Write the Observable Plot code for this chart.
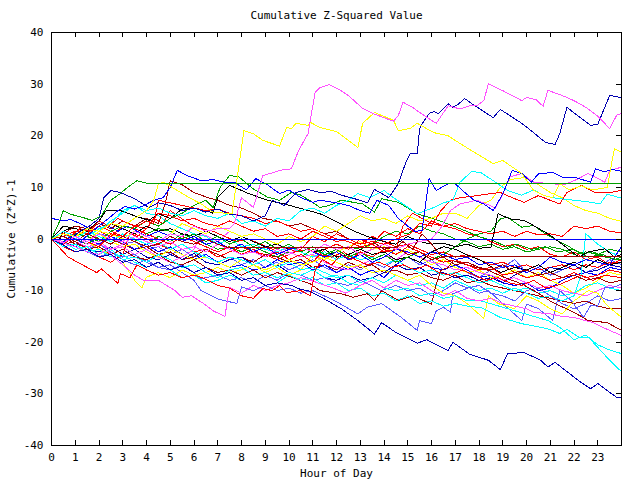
<!DOCTYPE html>
<html><head><meta charset="utf-8">
<script src="https://cdn.jsdelivr.net/npm/d3@7"></script>
<script src="https://cdn.jsdelivr.net/npm/@observablehq/plot@0.6"></script>
<style>body{margin:0;background:#fff} svg{display:block}</style>
</head><body><div id="chart"></div>
<script>
const titleText = "Cumulative Z-Squared Value";
const xLabel = "Hour of Day";
const yLabel = "Cumulative (Z*Z)-1";
const hourTicks = d3.range(0, 24);
const valueTicks = [-40,-30,-20,-10,0,10,20,30,40];

// series: [hour, cumulative value]
const mag1 = [[0,0],[0.5,-0.8],[1,0.5],[1.5,-0.5],[2,1],[2.5,0],[3,-0.5],[3.5,1.5],[4,0.5],[4.5,-0.5],[5,1],[5.5,0.5],[6,2.5],[6.5,1.5],[7,2],[7.5,2],[7.7,3],[8.0,8],[8.5,6.1],[8.9,12.3],[9.3,12.8],[9.6,13.3],[10.1,13.6],[10.4,17.1],[10.8,20.4],[11.1,28.4],[11.3,29.3],[11.7,29.9],[12.1,29],[12.5,27.8],[13.1,25.3],[13.6,24.2],[14.0,23.5],[14.4,22.8],[14.6,23.9],[14.8,26.5],[15.2,25.5],[15.5,24.5],[16.2,22.4],[16.7,25.8],[17.2,25.2],[17.6,25.8],[17.9,25.8],[18.2,26.8],[18.4,30.1],[19.1,28.5],[19.8,26.8],[20.0,27.4],[20.4,27],[20.7,25.7],[20.9,28.8],[21.5,27.8],[22.0,26.8],[22.5,25.5],[23.0,23.8],[23.5,21.4],[23.8,24],[24,24.3]];
const yel1 = [[0,0],[0.5,1],[1,0.5],[1.5,2],[2,1.5],[2.5,3],[3,2.5],[3.5,4],[4,5.5],[4.3,7.4],[4.5,10.7],[4.7,11],[5.3,9.4],[5.8,8],[6.3,6.8],[6.8,5.2],[7.3,5],[7.6,4.9],[8.1,21],[8.5,20.4],[8.9,19.1],[9.6,18],[9.9,21.6],[10.1,21.4],[10.3,22.4],[10.8,22],[10.9,22.6],[11.3,21.6],[12.0,20.8],[12.9,17.7],[13.1,22.4],[13.6,24.5],[14.4,23],[14.6,21],[15.1,21.4],[15.4,22.4],[16.1,20.6],[16.7,20],[17.2,18.5],[17.8,16.8],[18.6,14.6],[19.0,15.2],[19.8,12.7],[20.3,9.4],[20.7,8.5],[21.1,8],[21.4,10.7],[21.8,9.5],[22.3,10.3],[22.8,9.5],[23.4,10],[23.7,17.5],[24,16.8]];
const nav1 = [[0,0],[0.4,-1],[0.8,0],[1.2,1.5],[1.6,2.5],[2,4],[2.2,8],[2.5,9.4],[2.9,9],[3.5,7.8],[4.1,6.1],[4.5,7],[5,6.5],[5.5,5.5],[6,6],[6.5,5.2],[7,5.8],[7.5,4.8],[8,4.5],[8.5,3.5],[9,4.5],[9.3,7.5],[9.8,6.5],[10.3,9],[10.8,9.6],[11.3,9],[11.8,9.2],[12.2,8.5],[13,7.5],[13.3,7],[13.6,9.6],[14.2,8],[14.6,10.7],[14.9,14.6],[15.1,16.5],[15.4,16.5],[15.5,21.4],[15.7,23],[15.9,24.3],[16.1,24.7],[16.3,24.3],[16.7,26.2],[16.9,25.5],[17.1,26],[17.4,27.2],[17.7,26.2],[18.6,23.5],[18.9,25.1],[19.8,22.4],[20.3,20.6],[20.8,18.7],[21.2,18.3],[21.4,20.4],[21.7,25.5],[22.7,22],[23,22.2],[23.5,27.8],[24,27.4]];
const grn1 = [[0,0],[0.3,3],[0.5,5.5],[0.8,4.8],[1.3,4.2],[1.7,3.6],[2.1,4.5],[2.3,6],[2.5,7.5],[2.9,8.8],[3.2,10],[3.6,11.3],[4.0,10.8],[24,10.8]];
const blu0 = [[0,0],[24,0]];
const blu2 = [[0,0],[0.4,-1],[0.8,0.5],[1.2,-0.5],[1.6,1],[2,2.5],[2.4,4],[2.8,5.5],[3.1,6.3],[3.5,5.8],[3.9,6.5],[4.3,7.5],[4.7,8],[5.0,10],[5.3,13.3],[5.7,12.3],[6.3,11.3],[6.8,11.5],[7.3,11],[7.7,11],[8.2,9.5],[8.6,11.7],[9.1,10.5],[9.6,8.8],[10.0,9.5],[10.5,8],[11,7.1],[11.3,7.5],[12,7],[12.5,6.5],[13,5.5],[13.4,5],[13.7,7.5],[14.2,6.5],[14.6,4],[15,2.5],[15.3,1.5],[15.6,1.6],[15.9,11.7],[16.2,9.4],[16.7,10.7],[17,10.7],[17.4,9],[17.8,7.5],[18.2,6.8],[18.6,5.5],[19,8.7],[19.4,13.3],[19.8,12.7],[20.2,11],[20.5,12.6],[21.1,12.9],[21.5,12],[22,12],[22.7,11],[22.9,13.6],[23.3,13],[23.6,13.5],[24,13.1]];
const cya1 = [[0,0],[0.5,1.5],[1,0.5],[1.5,2],[2,1.5],[2.5,3.5],[3,5],[3.5,6.5],[4,5.5],[4.5,6],[5,5],[5.5,4.5],[6,5.5],[6.5,4.5],[7,4],[7.5,5],[8,3],[8.5,3.5],[9,2.5],[9.5,4],[10,3.5],[10.5,5.5],[11,6],[11.5,5],[12,6.5],[12.5,7.5],[12.9,8.8],[13.4,8],[14,9.4],[14.4,8],[14.8,6.8],[15.4,4.9],[16.1,6.1],[16.5,7],[16.9,7.5],[17.2,11],[17.7,13.1],[18.1,12.8],[18.6,11.3],[19.2,9.4],[19.8,8.5],[20.3,9.5],[20.7,8.5],[21.1,8],[22,7.5],[22.6,7.2],[23.1,6.8],[23.4,8.7],[24,7.9]];
const red1 = [[0,0],[0.5,-1],[1,0.5],[1.5,-0.5],[2,-1.5],[2.5,1],[3,0.5],[3.5,2.5],[4,2],[4.5,5],[5,4.5],[5.5,3.5],[6,4],[6.5,3],[7,2.5],[7.5,3.5],[8,2.5],[8.5,1.5],[9,2],[9.5,0.5],[10,1],[10.5,0],[11,1.5],[11.5,0.5],[12,-0.5],[12.5,0],[13,-1],[13.5,-0.5],[14,-1],[14.5,0],[15.1,1],[15.5,3],[16,2.5],[16.4,5.5],[16.8,7.5],[17.2,8],[17.9,8.4],[18.5,8.8],[18.9,9],[19.4,8],[19.9,7.1],[20.5,8.4],[21,7.5],[21.4,6.8],[21.7,9],[22.3,10.4],[22.9,9],[23.5,9],[24,9.4]];
const yel2 = [[0,0],[0.5,-1],[1,0.5],[1.5,-0.5],[2,1.5],[2.5,1],[3,0],[3.5,1.5],[4,0.5],[4.5,-0.5],[5,1],[5.5,3],[6,2],[6.5,1],[7,2.5],[7.5,1.5],[8,0.5],[8.5,1],[9,0],[9.5,-1],[10,0.5],[10.5,-0.5],[11,0.5],[11.5,2.5],[12,1.5],[12.5,3],[13,4.5],[13.5,3.5],[14,4],[14.5,3],[15,4.5],[15.5,3.5],[16,4],[16.5,5],[17,5],[17.5,4],[18,6.5],[18.5,7.5],[18.9,10],[19.3,11.5],[19.9,11.9],[20.5,10.5],[21,9],[21.5,8],[22,6.5],[22.5,5.5],[23,5],[23.5,4],[24,3.4]];
const red2 = [[0,0],[0.4,1.2],[0.8,0.5],[1.2,2],[1.6,1.5],[2,3.5],[2.4,2.5],[2.8,4],[3.2,3],[3.6,2.5],[4,3.5],[4.3,3],[4.5,7.5],[5,7],[5.5,6.5],[6,6],[6.5,5.5],[7,5.8],[7.5,5],[8,4.5],[8.5,4],[9,3],[9.5,3.5],[10,2.5],[10.5,1.5],[11,2],[11.5,1],[12,0],[12.5,-0.5],[13,-1.5],[13.5,-1],[14,-2.5],[14.5,-2],[14.8,2.5],[15.2,5],[15.6,4],[16,3],[16.5,2.5],[17,3],[17.5,2],[18,1.5],[18.5,1],[19,1.5],[19.5,0.5],[20,1.5],[20.5,0.8],[21,1],[21.5,0.5],[22,2.5],[22.5,2],[23,2.5],[23.5,1.5],[24,1.2]];
const blk1 = [[0,0],[0.3,1.5],[0.5,2.5],[1,2],[1.5,1.5],[2,3.5],[2.3,5.5],[2.9,5.5],[3.5,4.5],[4.1,3.6],[4.5,4.9],[5,4],[5.5,5.8],[6,6],[6.5,5.5],[6.8,5],[7.0,8.1],[7.5,10.4],[8.3,8.8],[9.1,7.5],[9.8,6.8],[10.5,5.9],[11.3,4.9],[11.9,3.6],[12.7,1.6],[13.3,0.5],[14,-0.5],[14.5,-1],[15,0.5],[15.5,-0.5],[16,-1],[16.5,-0.8],[17,-1.5],[17.5,-1],[18,-1.8],[18.5,-1.6],[18.8,4.9],[19.3,3.9],[19.9,3.6],[20.3,2.6],[20.9,1],[21.3,-0.3],[22.2,-3.5],[22.6,-2.5],[23.3,-1.9],[23.7,-3.5],[24,-3]];
const grn2 = [[0,0],[0.5,-0.5],[1,1],[1.5,0.5],[2,-0.5],[2.5,1.5],[3,2.5],[3.5,2],[4,3.5],[4.5,2.5],[5,4],[5.5,5],[6,6.5],[6.5,7.5],[6.8,6.1],[7.1,10],[7.5,12.3],[7.9,12],[8.5,9.7],[9.1,8.1],[9.6,7.5],[10.1,9],[10.5,8.5],[11,7.1],[11.3,6.1],[11.7,6.5],[12.2,7.5],[13.1,6.8],[13.6,5.2],[13.9,7.8],[14.6,7.1],[15.4,4.9],[16.3,3.6],[17.2,2],[18.1,0.3],[18.6,-0.3],[19.2,-1.6],[19.6,-1],[20.2,-2],[20.8,-1.5],[21.3,-2.5],[22,-2],[22.6,-3.5],[23.2,-3],[23.7,-4],[24,-3.5]];
const marB = [[0,0],[0.5,1],[1,2.5],[1.5,2],[2,3],[2.5,2],[3,3.5],[3.5,2.5],[4,4],[4.5,3],[4.8,7],[5,11.3],[5.5,10.5],[6,9],[6.6,8],[7,7.5],[7.5,6.5],[8,6],[8.5,5],[8.9,4],[9.5,3.5],[10,2.5],[10.5,3],[11,2],[11.5,1],[12,1.5],[12.5,0],[13,-1],[13.5,-0.5],[14,-2],[14.5,-1.5],[15,-3],[15.5,-2.5],[16,-4],[16.5,-3.5],[17,-5],[17.5,-4.5],[18,-5.5],[18.5,-6],[19,-5],[19.5,-6.5],[20,-6],[20.5,-7],[21,-6.5],[21.5,-7.5],[22,-7],[22.5,-8],[23,-7.5],[23.5,-8.5],[24,-8]];
const marA = [[0,0],[0.5,0.5],[1,-0.5],[1.5,1],[2,0],[2.5,-1],[3,0.5],[3.5,-0.5],[4,-1.5],[4.5,-1],[5,0.5],[5.5,-0.5],[6,-1],[6.5,0],[7,-1],[7.4,-1.6],[14.5,-1.6],[14.8,-0.5],[15.2,-2],[15.6,1],[16,-1],[16.4,-3.3],[24,-3.3]];
const redLow = [[0,0],[0.7,-3.5],[1.1,-4.5],[1.5,-5.5],[1.9,-6.5],[2.1,-5.8],[2.8,-8.6],[2.9,-6.7],[3.3,-7.5],[3.6,-5],[4,-6],[4.5,-7],[5,-6.5],[5.5,-7.5],[6,-7],[6.3,-7.4],[7,-9],[7.5,-9.5],[8,-11],[8.5,-11.5],[8.9,-9.6],[9.3,-10],[9.6,-9],[9.9,-10.4],[10.5,-10],[10.9,-11],[11.1,-6.1],[11.4,-4],[11.8,-5],[12.2,-3],[12.6,-4],[13,-2.5],[13.5,-3.5],[14,-2],[14.5,-3],[15,-1.5],[15.5,-2.5],[16,-3.5],[16.5,-4.5],[17,-4],[17.5,-5],[18,-6],[18.5,-5.5],[19,-7],[19.5,-6.5],[20,-7.5],[20.5,-7],[21,-8],[21.5,-7.5],[22,-6.5],[22.5,-7.5],[23,-7],[23.5,-6],[24,-6.5]];
const nav2 = [[0,0],[0.5,-1.2],[1,-2.5],[1.5,-2],[2,-3.5],[2.5,-3],[3,-4.5],[3.5,-4],[4,-5.5],[4.5,-4.5],[5,-6],[5.5,-5.2],[6,-6.5],[6.5,-5.5],[7,-7],[7.5,-6.5],[8,-8],[8.5,-7.5],[9,-9],[9.5,-8.5],[10.1,-9],[10.5,-9.8],[10.8,-10],[11.3,-11.1],[12.2,-13.5],[12.9,-15.8],[13.6,-18.4],[13.9,-16.2],[14.5,-18.1],[15.4,-20.2],[15.8,-19.5],[16.7,-21.6],[16.9,-20],[17.6,-22.3],[18.4,-23.5],[18.9,-25.3],[19.2,-22.2],[19.9,-22],[20.6,-23.5],[20.9,-24.8],[21.2,-23.9],[22.3,-27.8],[22.7,-29],[23,-28],[23.8,-30.7],[24,-30.7]];
const mag2 = [[0,0],[0.5,-0.8],[1,-1.5],[1.5,-2.5],[2,-3],[2.3,-2],[2.6,-3.5],[3,-5],[3.5,-7],[3.9,-8.1],[4.5,-8],[5.2,-10],[5.5,-11.3],[5.9,-11],[6.4,-12.5],[6.8,-13.9],[7.3,-15],[7.5,-9.4],[8,-10.5],[8.5,-9],[9,-10],[9.5,-9],[10,-8.5],[10.5,-7.5],[10.9,-8],[11.8,-9.4],[12.4,-10.5],[13,-9],[13.5,-8],[14,-9.5],[14.5,-8],[15,-9],[15.5,-8.5],[16,-10],[16.5,-11],[17,-10],[17.5,-11.5],[18,-12],[18.5,-11.5],[19,-12.5],[19.5,-13],[20,-13.5],[20.3,-14.2],[21,-14.5],[21.5,-15],[22,-15.2],[22.8,-16.2],[23.4,-17.5],[24,-18.7]];
const cyaA = [[0,0],[0.5,-1.5],[1,-1],[1.5,-2.5],[2,-2],[2.5,-3.5],[3,-3],[3.5,-4.5],[4,-5.5],[4.5,-4.5],[5,-6],[5.5,-7.5],[6,-7],[6.5,-8.5],[7,-8],[7.5,-7],[8,-8],[8.5,-7.5],[9,-9],[9.5,-8.5],[10,-7],[10.5,-8],[11,-7.5],[11.5,-9],[12,-8.5],[12.5,-10],[13,-9.5],[13.5,-11],[14,-10.5],[14.5,-12],[15,-11],[15.5,-12.5],[16,-12],[16.5,-13],[17,-12.5],[17.5,-13],[18.1,-13.3],[18.9,-15.2],[19.8,-16.4],[20.9,-17.4],[21.4,-18.3],[21.7,-17.5],[22.2,-19],[22.6,-19],[23,-21],[23.5,-23.5],[24,-25.7]];
const cyaB = [[0,0],[0.5,-0.5],[1,-2],[1.5,-1.5],[2,-3],[2.5,-2],[3,-4],[3.5,-3.5],[4,-4.5],[4.5,-3],[5,-4],[5.5,-5.5],[6,-5],[6.5,-6.5],[7,-7.5],[7.5,-6],[8,-5.5],[8.5,-7],[9,-6.5],[9.5,-7.5],[10,-6.5],[10.5,-7],[11,-6],[11.5,-7.5],[12,-7],[12.5,-8.5],[13,-9],[13.5,-8],[14,-9.5],[14.5,-10],[15,-9.5],[15.5,-11],[16,-10.5],[16.5,-11.5],[17,-11],[17.5,-12],[18.1,-12],[19.5,-13.9],[20.9,-15.8],[21.4,-17.1],[22,-19.5],[22.5,-18.6],[23,-20.5],[23.5,-21.5],[24,-22.2]];
const marLow = [[0,0],[0.5,-1],[1,-0.5],[1.5,-2],[2,-1.5],[2.5,-3],[3,-2],[3.5,-3.5],[4,-4],[4.5,-3],[5,-4.5],[5.5,-5],[6,-4],[6.5,-5.5],[7,-6.5],[7.5,-6],[8,-7],[8.5,-6],[9,-7.5],[9.5,-6.5],[10.1,-7.4],[10.9,-8.7],[11.3,-10],[12.2,-10.6],[12.7,-11.3],[13.3,-10.6],[13.6,-11.9],[13.9,-10],[14.6,-11.9],[15.2,-11],[16,-12.6],[16.2,-8.7],[16.4,-6.1],[16.7,-5.5],[16.9,-4.2],[17.5,-5],[18.4,-6.1],[19.1,-7.5],[19.8,-8.7],[20.5,-10.5],[21.1,-12.3],[22,-14.2],[22.6,-15.8],[23.4,-16.2],[24,-17.7]];
const yel3 = [[0,0],[0.5,1.5],[1,0.5],[1.5,-0.5],[2,-2],[2.5,-3],[3,-4.5],[3.5,-8],[3.8,-9.5],[4,-7.4],[4.5,-6.5],[5,-7.5],[5.5,-6],[6,-7],[6.5,-6.5],[7,-5.5],[7.5,-6.5],[8,-6],[8.5,-5],[9,-6],[9.5,-5],[10,-4],[10.5,-5],[11,-4.5],[11.5,-3.5],[12,-4.5],[12.5,-5.5],[13,-5],[13.5,-6.5],[14,-6],[15,-8],[15.5,-7],[16,-9],[16.5,-10.5],[17,-11],[17.5,-12.5],[18.2,-15.4],[18.4,-11],[18.8,-12.5],[19.5,-13.5],[20,-11],[20.5,-12],[21,-13.5],[21.5,-14.5],[22,-12],[22.6,-10],[23,-10.5],[23.4,-12.9],[24,-15.2]];
const perA = [[0,0],[0.5,-1],[1,-0.5],[1.5,-2],[2,-1],[2.5,-2.5],[3,-3.5],[3.5,-3],[4,-4.5],[4.5,-5.5],[5,-5],[5.5,-6.5],[6,-8],[6.3,-10],[7,-11.6],[7.8,-12.5],[8,-9.3],[8.5,-10],[9,-9],[9.5,-10],[10,-9.5],[10.5,-10.5],[11,-10],[11.9,-11.9],[12.9,-14.5],[13.3,-13.2],[13.9,-12.5],[14.7,-15.1],[15.4,-17.7],[15.5,-15.8],[16,-16.4],[16.2,-13.9],[16.5,-13.2],[16.8,-14.2],[16.9,-10.6],[17.6,-9.4],[18,-10.5],[18.4,-10],[19,-12.5],[19.8,-15.8],[20,-12.6],[20.5,-13.5],[21.1,-15.8],[21.4,-10],[21.9,-12],[22.4,-15.2],[22.7,-12.9],[23,-13],[23.3,-9.4],[23.6,-9.5],[24,-8.7]];
const perB = [[0,0],[0.5,-1.5],[1,-1],[1.5,-2.5],[2,-3.5],[2.5,-2.5],[3,-4],[3.5,-5],[4,-4],[4.5,-5.5],[5,-6],[5.5,-5],[6,-6.5],[6.3,-7.7],[7,-7],[7.5,-8],[8,-7.5],[8.5,-8.5],[9,-7],[9.5,-8],[10,-6.5],[10.5,-7],[11,-8],[11.5,-7.5],[12,-8.5],[12.5,-9],[13,-8],[13.9,-10],[14.5,-9],[15,-10],[15.5,-9.5],[16,-11],[16.5,-10],[17,-8.5],[17.5,-9.5],[18,-9],[18.5,-10.5],[19,-11],[19.5,-12],[20,-10],[20.5,-9.5],[21,-11],[21.5,-12.5],[22,-13.5],[22.5,-12.5],[23,-11],[23.5,-12],[24,-11.5]];
const perC = [[0,0],[0.5,0.5],[1,-1],[1.5,-0.5],[2,1],[2.5,0.5],[3,-1],[3.5,-0.5],[4,-2],[4.5,-1.5],[5,-3],[5.5,-2],[6,-3.5],[6.5,-3],[7,-4.5],[7.5,-3.5],[8,-5],[8.5,-4],[9,-5.5],[9.5,-4.5],[10,-6],[10.5,-5],[11,-4],[11.5,-5.5],[12,-6.5],[12.5,-5],[13,-6],[13.5,-4.5],[14,-5.5],[14.5,-4],[15,-3.5],[15.5,-5],[16,-4],[16.5,-6],[17,-5],[17.5,-6.5],[18,-7.5],[18.5,-6],[19,-5.5],[19.5,-4],[20,-6.5],[20.5,-5.5],[21,-7],[21.5,-6],[22,-5],[22.5,-6.5],[23,-5.5],[23.5,-4],[24,-5]];
const grn3 = [[0,0],[0.5,0.5],[1,-0.5],[1.5,1],[2,0],[2.5,-1],[3,0.5],[3.5,-0.5],[4,1],[4.5,2],[5,1.5],[5.5,0],[6,1],[6.5,-0.5],[7,0.5],[7.5,-1],[8,0],[8.5,-1.5],[9,-0.5],[9.5,-2],[10,-1],[10.5,-2.5],[11,-1.5],[11.5,-3],[12,-2],[12.5,-3.5],[13,-2.5],[13.5,-4],[14,-3],[14.5,-4.5],[15,-3.5],[15.5,-2.5],[16,-4],[16.5,-3],[17,-1.5],[17.5,0],[18,1],[18.5,1.5],[18.9,3.9],[19.2,4.2],[19.8,2.3],[20.3,2.6],[20.8,1],[21.3,-0.3],[21.8,-1.5],[22.3,-2.9],[22.8,-2.5],[23.3,-3.5],[24,-4.1]];
const blk2 = [[0,0],[0.3,-0.5],[0.5,1.5],[1,2.5],[1.5,2],[2,1.5],[2.5,3],[3,2],[3.5,1],[4,2.5],[4.5,1.5],[5,2],[5.5,1],[6,0.5],[6.5,1.5],[7,0.5],[7.5,-0.5],[8,0.5],[8.5,-0.5],[9,-1.5],[9.5,-1],[10,-2],[10.5,-1.5],[11,-2.5],[11.5,-2],[12,-3.5],[12.5,-3],[13,-2],[13.5,-3],[14,-2.5],[14.5,-4],[15,-3.5],[15.5,-4.5],[16,-2.5],[16.5,-1.5],[17,-2],[17.4,-2.9],[18.1,-4.2],[18.9,-6.5],[19.5,-5.5],[20,-6],[20.5,-5],[21,-6.5],[21.5,-5.5],[22,-4.5],[22.5,-5.5],[23,-4],[23.5,-5],[24,-4.5]];
const red3 = [[0,0],[0.5,-1],[1,0.5],[1.5,2],[2,1.5],[2.5,0.5],[3,2.5],[3.5,2],[4,1],[4.5,0],[5,-1],[5.5,0.5],[6,-0.5],[6.5,-1.5],[7,-2.5],[7.5,-1.5],[8,-3],[8.5,-2],[9,-3.5],[9.5,-2.5],[10,-4],[10.5,-3],[11,-4.5],[11.5,-2],[12,-1],[12.5,-2],[13,0],[13.5,-1],[14,1.5],[14.5,0.5],[15,2],[15.5,1],[16,3.5],[16.5,2.5],[17,2],[17.5,1],[18,0.5],[18.5,-0.5],[19,-1.5],[19.5,-1],[20,-2],[20.5,-1.5],[21,-3],[21.5,-3.5],[22,-2.5],[22.5,-4],[23,-3.5],[23.5,-5],[24,-4]];
const red4 = [[0,0],[0.5,-1.5],[1,-2.5],[1.5,-2],[2,-3.5],[2.5,-4.5],[3,-3],[3.3,1],[3.6,0.5],[4,2],[4.3,4],[4.7,3],[5,5.5],[5.3,4.5],[5.8,3],[6.3,2],[6.8,1.5],[7.3,0.5],[7.8,-0.5],[8.3,0],[8.8,-1],[9.3,-2],[9.8,-1.5],[10.3,-2.5],[10.8,-2],[11.3,-3],[11.8,-3.5],[12.3,-2.5],[12.8,-4],[13.3,-5],[13.8,-4.5],[14.3,-5.5],[14.8,-5],[15.3,-6],[15.8,-5],[16.3,-6.5],[16.8,-7],[17.3,-6],[17.8,-7],[18.3,-8],[18.8,-7.5],[19.3,-8.5],[19.8,-9],[20.3,-8],[20.8,-9.5],[21.3,-9],[21.8,-8],[22.3,-7],[22.8,-8],[23.3,-7],[24,-7.5]];
const mag3 = [[0,0],[0.5,0.5],[1,-0.5],[1.5,-1.5],[2,-1],[2.5,-2],[3,-1.5],[3.5,-3],[4,-2],[4.5,-3.5],[5,-4.5],[5.5,-3.5],[6,-2],[6.3,1],[6.6,0.5],[7,-0.5],[7.5,1.5],[8,0.5],[8.5,-0.5],[9,-1.5],[9.5,-1],[10,-2.5],[10.5,-3.5],[11,-3],[11.5,-4.5],[12,-5.5],[12.5,-6],[13,-5],[13.5,-4],[14,-3],[14.5,-4],[15,-2.5],[15.5,-3.5],[16,-4.5],[16.5,-5],[17,-6],[17.5,-5.5],[18,-6.5],[18.5,-7],[19,-8],[19.5,-7.5],[20,-8.5],[20.5,-9.5],[21,-9],[21.5,-10],[22,-10.5],[22.5,-11],[23,-10],[23.5,-9],[24,-9.5]];
const mag4 = [[0,0],[0.5,-0.5],[1,0.5],[1.5,-1],[2,-0.5],[2.5,-2],[3,-1],[3.5,0.5],[4,-0.5],[4.5,-1.5],[5,-0.5],[5.5,-2],[6,-1.5],[6.5,-2.5],[7,-1],[7.5,-2],[8,-3],[8.5,-2.5],[9,-3.5],[9.5,-2],[10,-3],[10.5,-1.5],[11,-2.5],[11.5,-1],[12,-2],[12.5,-1.5],[13,-3],[13.5,-2],[14,-1],[14.5,-2],[15,-1],[15.5,-0.5],[16,0],[16.4,2.2],[16.8,5.5],[17.2,6.8],[17.9,7.5],[18.3,6.8],[18.7,6],[19,8.7],[19.3,12],[19.8,12.7],[20.3,11],[21.1,10.7],[21.6,10.5],[22.1,11.5],[22.6,12.7],[23.3,11],[23.5,13.3],[24,13.9]];
const cya2 = [[0,0],[0.5,1],[1,0],[1.5,1.5],[2,0.5],[2.5,-0.5],[3,1],[3.5,0],[4,-1],[4.5,-0.5],[5,-2],[5.5,-1],[6,-2.5],[6.5,-3.5],[7,-4.5],[7.5,-3.5],[8,-4],[8.5,-5],[9,-4],[9.5,-5.5],[10,-4.5],[10.5,-6],[11,-5.5],[11.5,-6.5],[12,-7.5],[12.5,-7],[13,-8.5],[13.5,-7.5],[14,-8.5],[14.5,-7],[15,-8],[15.5,-9],[16,-8.5],[16.5,-9.5],[17,-8],[17.5,-9],[18,-10],[18.5,-9.5],[19,-10.5],[19.5,-9.5],[20,-10.5],[20.5,-11.5],[21,-11],[21.5,-12],[22,-11],[22.3,-7],[22.5,1],[23,-1],[23.5,-2.5],[24,-3.5]];
const cyaC = [[0,0],[0.5,-0.5],[1,1],[1.5,0.5],[2,2],[2.5,3],[3,5.5],[3.5,6.5],[4,5],[4.5,4.5],[5,3],[5.5,2],[6,1],[6.5,0.5],[7,-1],[7.5,0],[8,-1.5],[8.5,-1],[9,-2],[9.5,-2.5],[10,-1.5],[10.5,-2.5],[11,-3.5],[11.5,-2.5],[12,-4],[12.5,-3],[13,-4],[13.5,-3.5],[14,-5],[14.5,-4],[15,-5.5],[15.5,-6.5],[16,-6],[16.5,-7],[17,-6.5],[17.5,-7.5],[18,-8.5],[18.5,-8],[19,-9],[19.5,-10],[20,-9.5],[20.5,-10.5],[21,-10],[21.5,-11],[22,-10.5],[22.5,-9],[23,-8.5],[23.5,-9.5],[24,-10]];
const yel4 = [[0,0],[0.5,-1],[1,0.5],[1.5,1.5],[2,1],[2.5,-0.5],[3,-1.5],[3.5,-1],[4,-2.5],[4.5,-3.5],[5,-2],[5.5,-3],[6,-4],[6.5,-3.5],[7,-4.5],[7.5,-5.5],[8,-4],[8.5,-5],[9,-6.5],[9.5,-5.5],[10,-7],[10.5,-6],[11,-3],[11.5,-4],[12,-2.5],[12.5,-1.5],[13,-0.5],[13.5,-2],[14,-1.5],[14.5,-3],[15,-2],[15.5,-3.5],[16,-5],[16.5,-4],[17,-5.5],[17.5,-6.5],[18,-6],[18.5,-7.5],[19,-7],[19.5,-6],[20,-7.5],[20.5,-6.5],[21,-8],[21.5,-9],[22,-10.5],[22.5,-9.5],[23,-8],[23.5,-6.5],[24,-7]];
const blu3 = [[0,0],[0.5,-0.5],[1,-1.5],[1.5,0],[2,-1],[2.5,0.5],[3,-0.5],[3.5,-2],[4,-1],[4.5,-2.5],[5,-1.5],[5.5,-3],[6,-4],[6.5,-3],[7,-4.5],[7.5,-5.5],[8,-5],[8.5,-6],[9,-5.5],[9.5,-4],[10,-5],[10.5,-4.5],[11,-6],[11.5,-5],[12,-6.5],[12.5,-5.5],[13,-7],[13.5,-6],[14,-7.5],[14.5,-5],[15,-3.5],[15.5,-4.5],[16,-5.5],[16.5,-6],[17,-5],[17.5,-6],[18,-7.5],[18.5,-7],[19,-8.5],[19.5,-9],[20,-8.5],[20.5,-10],[21,-9.5],[21.5,-8],[22,-7],[22.5,-6.5],[23,-7],[23.5,-5.5],[24,-6]];
const nav3 = [[0,0],[0.5,-1],[1,-0.5],[1.5,-2],[2,-2.5],[2.5,-1.5],[3,-3],[3.5,-2],[4,-3.5],[4.5,-4],[5,-3],[5.5,-4],[6,-2.8],[6.5,-4.5],[7,-5],[7.5,-4],[8,-3.5],[8.5,-5],[9,-6],[9.5,-5],[10,-6.5],[10.5,-7],[11,-6],[11.5,-7.5],[12,-8],[12.5,-7],[13,-8],[13.5,-7.5],[14,-6.5],[14.5,-5],[15,-6],[15.5,-5.5],[16,-7],[16.5,-6.5],[17,-7.5],[17.5,-7],[18,-8],[18.5,-7.5],[19,-8.5],[19.5,-7],[20,-6],[20.5,-7],[21,-5.5],[21.5,-6],[22,-5],[22.5,-6.5],[23,-6],[23.5,-5],[24,-5.5]];
const blu4 = [[0,4],[0.5,3.5],[0.8,3.8],[1.2,3],[1.6,2],[2,3.5],[2.4,2.5],[2.8,1.5],[3.2,2.5],[3.6,1.5],[4,0.5],[4.5,1.5],[5,0.5],[5.5,-0.5],[6,0.5],[6.5,-1],[7,-0.5],[7.5,-2],[8,-1],[8.5,-2.5],[9,-1.5],[9.5,-3],[10,-2],[10.5,-1.5],[11,-2.5],[11.5,-3.5],[12,-2.5],[12.5,-4],[13,-3],[13.5,-4.5],[14,-3.5],[14.5,-2],[15,-2.5],[15.5,-3.5],[16,-2.5],[16.5,-3],[17,-4],[17.5,-3.5],[18,-5],[18.5,-4.5],[19,-5.5],[19.5,-5],[20,-6.5],[20.5,-5.5],[21,-3.5],[21.5,-4.5],[22,-5],[22.5,-4],[23,-4.5],[23.5,-5],[24,-1.5]];
const red5 = [[0,0],[0.5,0.5],[1,1.5],[1.5,1],[2,2.5],[2.5,1.5],[3,0.5],[3.5,1],[4,0],[4.5,-1],[5,-2],[5.5,-1],[6,-2.5],[6.5,-2],[7,-3.5],[7.5,-2.5],[8,-1.5],[8.5,-2.5],[9,-3],[9.5,-4],[10,-3],[10.5,-2],[11,0.5],[11.5,-0.5],[12,1],[12.5,0],[13,-1],[13.5,0.5],[14,-0.5],[14.5,-1.5],[15,-1],[15.5,-2],[16,-3],[16.5,-2.5],[17,-3.5],[17.5,-3],[18,-4],[18.5,-5],[19,-4.5],[19.5,-5.5],[20,-5],[20.5,-6],[21,-5.5],[21.5,-5],[22,-6],[22.5,-5],[23,-5.5],[23.5,-4.5],[24,-4.5]];
const marC = [[0,0],[0.5,0.5],[1,-1],[1.5,-1.5],[2,-1],[2.5,0],[3,-1],[3.5,-2],[4,-1.5],[4.5,-3],[5,-2.5],[5.5,-4],[6,-3.5],[6.5,-2],[7,-3],[7.5,-4],[8,-3.5],[8.5,-4.5],[9,-3],[9.5,-3.5],[10,-4.5],[10.5,-4],[11,-5.5],[11.5,-5],[12,-6],[12.5,-4.5],[13,-5.5],[13.5,-5],[14,-6.5],[14.5,-6],[15,-7],[15.5,-6.5],[16,-7.5],[16.5,-8],[17,-7],[17.5,-8.5],[18,-8],[18.5,-9],[19,-9.5],[19.5,-10],[20,-10.5],[20.5,-11],[21,-11.5],[21.5,-12],[22,-12.5],[22.5,-12],[23,-13],[23.5,-13.5],[24,-13.5]];
const grn4 = [[0,0],[0.5,1],[1,0],[1.5,-1],[2,0.5],[2.5,-0.5],[3,1],[3.5,0],[4,-1],[4.5,0.5],[5,-0.5],[5.5,1],[6,0],[6.5,-1],[7,-2],[7.5,-1.5],[8,-2.5],[8.5,-1.5],[9,-2.5],[9.5,-3.5],[10,-2.5],[10.5,-3.5],[11,-2],[11.5,-3],[12,-2.5],[12.5,-1.5],[13,-2],[13.5,-1],[14,0.5],[14.5,1.5],[15,1],[15.5,2.5],[16,1.5],[16.5,1],[17,0],[17.5,-0.5],[18,-1.5],[18.5,-1],[19,-2],[19.5,-1.5],[20,-2.5],[20.5,-2],[21,-1.5],[21.5,-2],[22,-3],[22.5,-2.5],[23,-3],[23.5,-2],[24,-2.5]];

const palette = {red:"#ff0000", green:"#00a000", blue:"#0000ff", magenta:"#ff50ff", cyan:"#00ffff", maroon:"#a00000", yellow:"#ffff00", black:"#000000", periwinkle:"#5a5aff", navy:"#0000b0"};

const seriesList = [
  [perC,"periwinkle"],[grn4,"green"],[red5,"red"],[marC,"maroon"],[blu3,"blue"],[nav3,"navy"],[yel4,"yellow"],
  [cyaC,"cyan"],[cya2,"cyan"],[mag3,"magenta"],[red4,"red"],[red3,"red"],[blk2,"black"],[grn3,"green"],
  [perB,"periwinkle"],[perA,"periwinkle"],[yel3,"yellow"],[marLow,"maroon"],[cyaB,"cyan"],[cyaA,"cyan"],
  [mag2,"magenta"],[redLow,"red"],[blu4,"blue"],[marB,"maroon"],[grn2,"green"],[blk1,"black"],[red2,"red"],
  [yel2,"yellow"],[mag4,"magenta"],[red1,"red"],[cya1,"cyan"],[blu2,"blue"],[nav2,"navy"],[marA,"maroon"],
  [nav1,"navy"],[yel1,"yellow"],[mag1,"magenta"],[grn1,"green"],[blu0,"blue"]
];

const lineMarks = seriesList.map(([pts, col]) =>
  Plot.line(pts, {x: d => d[0], y: d => d[1], stroke: palette[col], strokeWidth: 1, shapeRendering: "crispEdges"})
);

const chart = Plot.plot({
  width: 640, height: 480,
  marginLeft: 51, marginRight: 19, marginTop: 32, marginBottom: 35,
  style: {fontFamily: "'DejaVu Sans Mono', monospace", fontSize: "11px", background: "#fff", color: "#000"},
  x: {domain: [0, 24]},
  y: {domain: [-40, 40]},
  marks: [
    ...lineMarks,
    Plot.frame({stroke: "#000", shapeRendering: "crispEdges"}),
    Plot.ruleX(hourTicks, {y1: -40, y2: -39, stroke: "#000", shapeRendering: "crispEdges"}),
    Plot.ruleX(hourTicks, {y1: 40, y2: 39, stroke: "#000", shapeRendering: "crispEdges"}),
    Plot.ruleY(valueTicks, {x1: 24, x2: 23.8, stroke: "#000", shapeRendering: "crispEdges"}),
    Plot.axisX(hourTicks, {anchor: "bottom", tickSize: 0, tickPadding: 8, label: null, tickFormat: d => String(d)}),
    Plot.axisY(valueTicks, {anchor: "left", tickSize: 0, tickPadding: 8, label: null, tickFormat: d => String(d)}),
    Plot.text([titleText], {frameAnchor: "top", dy: -17, lineAnchor: "middle", text: d => d}),
    Plot.text([xLabel], {frameAnchor: "bottom", dy: 28, lineAnchor: "middle", text: d => d}),
    Plot.text([yLabel], {frameAnchor: "left", dx: -40, rotate: -90, lineAnchor: "middle", textAnchor: "middle", text: d => d})
  ]
});
document.getElementById("chart").appendChild(chart);
</script>
</body></html>
